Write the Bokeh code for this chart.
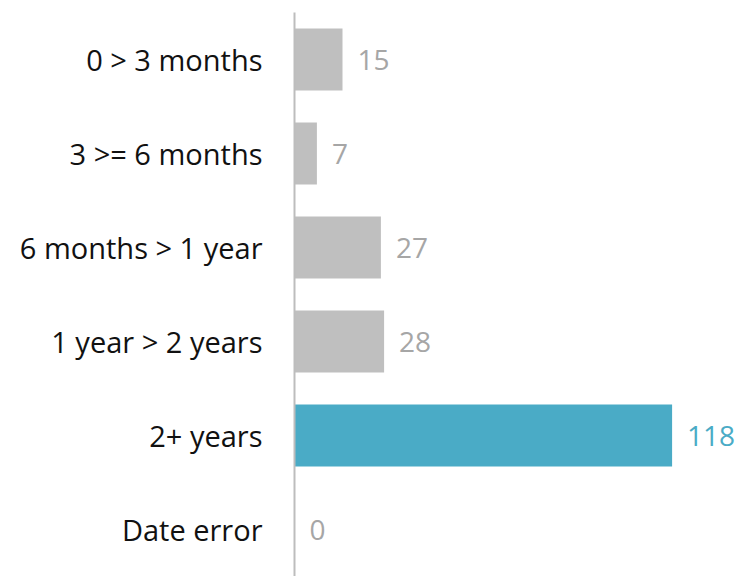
from bokeh.plotting import figure
from bokeh.models import ColumnDataSource, FactorRange, Range1d
from bokeh.core.properties import value
from bokeh.embed import file_html
from bokeh.resources import INLINE

categories = ["0 > 3 months", "3 >= 6 months", "6 months > 1 year",
              "1 year > 2 years", "2+ years", "Date error"]
counts = [15, 7, 27, 28, 118, 0]
highlight = "2+ years"

GREY_BAR = "#bfbfbf"
GREY_TXT = "#a6a6a6"
BLUE = "#4aabc6"
FONT = "Open Sans"

bar_colors = [BLUE if c == highlight else GREY_BAR for c in categories]
txt_colors = [BLUE if c == highlight else GREY_TXT for c in categories]

src = ColumnDataSource(dict(cat=categories, val=counts, lbl=[str(v) for v in counts],
                            bc=bar_colors, tc=txt_colors))

W, H = 735, 576
LEFT = 294
p = figure(width=W, height=H, output_backend="svg", toolbar_location=None,
           y_range=FactorRange(factors=list(reversed(categories))),
           x_range=Range1d(0, (W - LEFT) / 3.2),
           x_axis_location=None,
           min_border_left=LEFT, min_border_right=0, min_border_top=12, min_border_bottom=0)

p.hbar(y="cat", right="val", left=0, height=0.66, fill_color="bc", line_color=None, source=src)
p.text(x="val", y="cat", text="lbl", text_color="tc", x_offset=15,
       text_baseline="middle", text_align="left", text_font=value(FONT),
       text_font_size="28px", source=src)

p.xgrid.visible = False
p.ygrid.visible = False
p.outline_line_color = None
p.background_fill_color = "white"
p.border_fill_color = "white"

ax = p.yaxis[0]
ax.axis_line_color = "#bdbdbd"
ax.axis_line_width = 2
ax.major_tick_line_color = None
ax.minor_tick_line_color = None
ax.major_tick_out = 0
ax.major_tick_in = 0
ax.major_label_standoff = 32
ax.major_label_text_font = FONT
ax.major_label_text_font_size = "29px"
ax.major_label_text_color = "#111111"

open("out.html", "w").write(file_html(p, INLINE))
